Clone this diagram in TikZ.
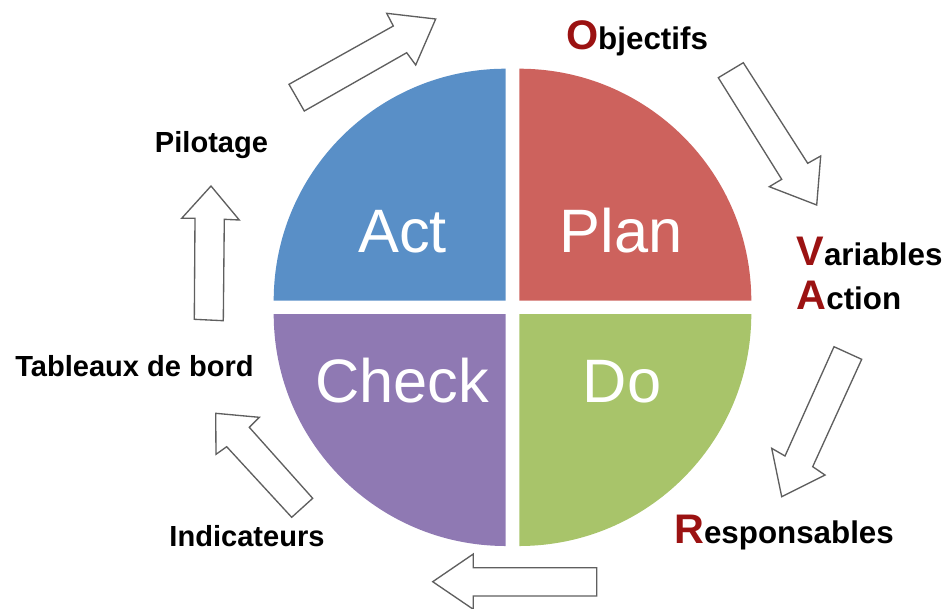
\documentclass[tikz,border=0pt]{standalone}
\usepackage{fontspec}
\setmainfont{Liberation Sans}
\newfontfamily\stepfont{Liberation Sans Bold}

\definecolor{actblue}{RGB}{89,143,199}
\definecolor{planred}{RGB}{205,98,93}
\definecolor{dogreen}{RGB}{168,196,106}
\definecolor{checkpurple}{RGB}{143,121,179}
\definecolor{initialred}{RGB}{155,18,18}
\definecolor{arrowgray}{RGB}{95,95,95}

\tikzset{every picture/.style={line width=0.75pt}}
\tikzset{
  blockarrow/.style={draw=arrowgray, fill=white, line width=1pt, line join=miter},
  phase/.style={text=white, font=\fontsize{46}{46}\selectfont, anchor=base, inner sep=0pt},
  stepleft/.style={font=\stepfont\fontsize{21.8}{21.8}\selectfont, anchor=base, inner sep=0pt},
  stepright/.style={font=\stepfont\fontsize{23.5}{23.5}\selectfont, inner sep=0pt},
}
\newcommand{\capletter}[1]{{\color{initialred}\fontsize{31}{31}\selectfont #1}}

\begin{document}
\begin{tikzpicture}[x=0.75pt,y=0.75pt,yscale=-1,xscale=1]
	\useasboundingbox (0,0) rectangle (950,608);
	
	%Shape: Quarter circle, Act
	\fill [actblue] (505.7,300.7) -- (273.7,300.7) arc[start angle=180, end angle=270, radius=232] -- cycle ;
	%Shape: Quarter circle, Plan
	\fill [planred] (519.3,300.7) -- (519.3,68.7) arc[start angle=270, end angle=360, radius=232] -- cycle ;
	%Shape: Quarter circle, Do
	\fill [dogreen] (519.3,314) -- (751.3,314) arc[start angle=0, end angle=90, radius=232] -- cycle ;
	%Shape: Quarter circle, Check
	\fill [checkpurple] (505.7,314) -- (505.7,546) arc[start angle=90, end angle=180, radius=232] -- cycle ;
	
	%Phase names
	\node [phase] (act) at (402.5,252.7) {Act};
	\node [phase] (plan) at (621,252.7) {Plan};
	\node [phase] (check) at (402,402) {Check};
	\node [phase] (do) at (622,402) {Do};
	
	%Shape: Block arrow, top
	\draw [blockarrow] (289,84.3) -- (393.3,26) -- (386.7,13.3) -- (435.7,19) -- (415.7,65) -- (406.7,52.7) -- (304.3,111) -- cycle ;
	%Shape: Block arrow, top right
	\draw [blockarrow] (718.3,77.7) -- (743.3,62.7) -- (807.7,163.3) -- (820.7,156) -- (816.7,205) -- (769.3,186.7) -- (781.7,179.3) -- cycle ;
	%Shape: Block arrow, bottom right
	\draw [blockarrow] (834,346.7) -- (861.7,359.3) -- (812.7,466.7) -- (825,475) -- (781.7,496.7) -- (771.7,448.3) -- (785,456) -- cycle ;
	%Shape: Block arrow, bottom
	\draw [blockarrow] (432.7,581.7) -- (473.3,554) -- (473.3,567.7) -- (596.7,567.7) -- (596.7,596) -- (473.3,596) -- (473.3,609.3) -- cycle ;
	%Shape: Block arrow, bottom left
	\draw [blockarrow] (215.7,413.3) -- (259.3,417.3) -- (249.3,427.3) -- (312.7,498.3) -- (291.7,517.3) -- (226.7,446.7) -- (216,454.3) -- cycle ;
	%Shape: Block arrow, left
	\draw [blockarrow] (211,186) -- (239.3,220) -- (224.3,219.3) -- (223.3,320.7) -- (194.3,319.3) -- (195,218.3) -- (181.7,218.3) -- cycle ;
	
	%Step labels
	\node [stepright, anchor=base] (objectifs) at (637,49) {\capletter{O}bjectifs};
	\node [stepright, anchor=base west] (variables) at (796,265.7) {\capletter{V}ariables};
	\node [stepright, anchor=base west] (action) at (796,309) {\capletter{A}ction};
	\node [stepright, anchor=base] (responsables) at (784,543) {\capletter{R}esponsables};
	\node [stepleft] (indicateurs) at (247,546) {Indicateurs};
	\node [stepleft] (tableaux) at (134.5,376) {Tableaux de bord};
	\node [stepleft] (pilotage) at (211.5,152) {Pilotage};
	
\end{tikzpicture}
\end{document}
